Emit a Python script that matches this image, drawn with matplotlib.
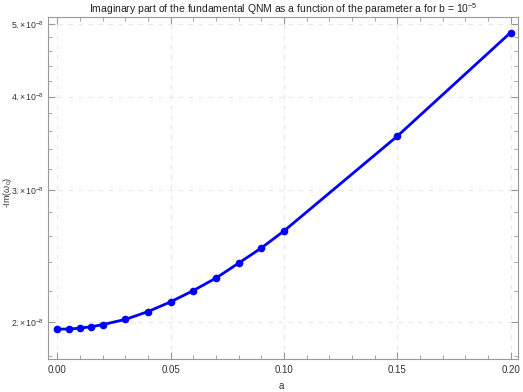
import numpy as np
import matplotlib
matplotlib.use('agg')
from matplotlib import pyplot as plt
from matplotlib.ticker import FixedLocator, MultipleLocator, NullFormatter

# parameter a and -Im(omega_0)
a_vals = [0.0, 0.005, 0.01, 0.015, 0.02, 0.03, 0.04, 0.05,
          0.06, 0.07, 0.08, 0.09, 0.10, 0.15, 0.20]
im_omega = [1.955e-8, 1.955e-8, 1.961e-8, 1.969e-8, 1.982e-8, 2.014e-8,
            2.063e-8, 2.126e-8, 2.201e-8, 2.287e-8, 2.395e-8, 2.509e-8,
            2.644e-8, 3.54e-8, 4.87e-8]

x_ticks = [0.0, 0.05, 0.10, 0.15, 0.20]
x_ticklabels = ['0.00', '0.05', '0.10', '0.15', '0.20']
y_ticks = [2e-8, 3e-8, 4e-8, 5e-8]
y_ticklabels = [r'$2.\!\times\!10^{-8}$', r'$3.\!\times\!10^{-8}$',
                r'$4.\!\times\!10^{-8}$', r'$5.\!\times\!10^{-8}$']
y_minor = [v * 1e-8 for v in np.arange(1.8, 5.2, 0.2)]

plt.rcParams['font.family'] = ['Liberation Sans', 'DejaVu Sans']
plt.rcParams['mathtext.fontset'] = 'custom'
plt.rcParams['mathtext.rm'] = 'Liberation Sans'
plt.rcParams['mathtext.it'] = 'Liberation Sans:italic'

fig = plt.figure(figsize=(5.23, 3.92), dpi=100)
ax = fig.add_axes([0.0918, 0.0842, 0.8982, 0.8724])

ax.plot(a_vals, im_omega, color='#0000ff', lw=2, marker='o', ms=4.5,
        zorder=3)

ax.set_yscale('log')
ax.set_xlim(-0.0041, 0.2032)
ax.set_ylim(1.783e-8, 5.11e-8)

ax.xaxis.set_major_locator(FixedLocator(x_ticks))
ax.set_xticklabels(x_ticklabels)
ax.xaxis.set_minor_locator(MultipleLocator(0.01))
ax.yaxis.set_major_locator(FixedLocator(y_ticks))
ax.set_yticklabels(y_ticklabels)
ax.yaxis.set_minor_locator(FixedLocator(y_minor))
ax.yaxis.set_minor_formatter(NullFormatter())

ax.grid(True, which='major', color='#e8e8e8', ls=(0, (4, 5)), lw=0.8)

for sp in ax.spines.values():
    sp.set_color('#999999')
    sp.set_linewidth(0.8)

ax.tick_params(which='both', direction='in', top=True, right=True,
               color='#999999', labelsize=7, labelcolor='#333333', pad=4)
ax.tick_params(axis='y', which='major', labelsize=6.3, pad=3)
ax.tick_params(which='major', length=5, width=0.8)
ax.tick_params(which='minor', length=3, width=0.6)

# axis labels placed like the reference
fig.text(0.537, 0.008, 'a', fontsize=7, color='#333333', ha='center',
         va='baseline')
fig.text(0.002, 0.51, r'-Im($\omega_0$)', fontsize=6.5, color='#333333',
         rotation=90, ha='left', va='center')
ax.set_title(r'Imaginary part of the fundamental QNM as a function of the parameter a for b = $10^{-5}$',
             fontsize=7.5, color='#222222', pad=3)

fig.savefig('out.png', dpi=100)
